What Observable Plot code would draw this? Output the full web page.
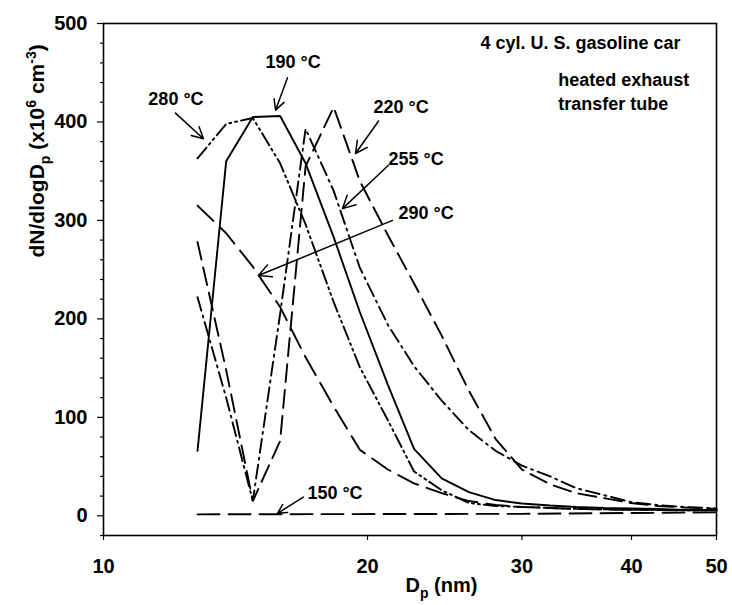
<!DOCTYPE html>
<html><head><meta charset="utf-8">
<script src="https://cdn.jsdelivr.net/npm/d3@7"></script>
<script src="https://cdn.jsdelivr.net/npm/@observablehq/plot@0.6"></script>
<style>
body{margin:0;background:#fff;}
#chart svg{display:block}
</style></head><body><div id="chart"></div>
<script>
// Particle diameter grid (nm)
const sizes = [12.8,13.8,14.8,15.9,17.0,18.3,19.6,21.1,22.6,24.3,26.1,28.0,30.0,32.3,34.6,37.2,39.9,42.8,46.0,50.0];
// dN/dlogDp (x10^6 cm^-3) for each transfer-tube temperature
const n190 = [66,360,405,406,358,283,207,133,68,38,24,16,12.5,10.5,9,8,7.5,7,6,6];
const n220 = [278,148,15,76,355,415,340,285,236,183,127,78,47,32,23,18,13,10,8.5,7];
const n255 = [222,120,15,205,393,330,252,194,152,117,87,66,51,40,28,21,14,11,9,7.5];
const n280 = [363,398,404,358,296,217,151,97,45,26,13,10,9,8,7,6.5,6,6,5.5,5.5];
const n290 = [315,287,253,212,161,111,67,47,33,23,15,11,9,8,7,6.5,6,6,5.5,5.5];
const sizes150 = [12.8,30,50];
const n150 = [1.5,2,3.5];

const xTicks = [10,20,30,40,50];
const yTicks = [0,100,200,300,400,500];
const yMinor = d3.range(-20,501,20).filter(v => v % 100 !== 0);

// annotations (data units)
const labelText = ["280 °C","190 °C","220 °C","255 °C","290 °C","150 °C"];
const labelD = [11.25,15.30,20.32,21.13,21.70,17.08];
const labelN = [423,461,415,362,307,23];
const arrowD1 = [12.08,16.21,20.59,21.13,21.36,16.90];
const arrowN1 = [409,445,401,356,300,19];
const arrowD2 = [13.0,15.71,19.38,18.73,15.02,15.79];
const arrowN2 = [383,412,368,312,244,2.5];
const notes = ["4 cyl. U. S. gasoline car","heated exhaust","transfer tube"];
const notesD = [26.9,33.0,33.0];
const notesN = [480,442,418];

const yTitleParts = [["dN/dlogD",""],["p","sub"],[" (x10",""],["6","sup"],[" cm",""],["-3","sup"],[")",""]];
const xTitleParts = [["D",""],["p","sub"],[" (nm)",""]];
const joinParts = p => p.map(d => d[0]).join("");

const rows = (xs, ys) => xs.map((d,i) => ({D: d, N: ys[i]}));
const labels = labelText.map((t,i) => ({t, D: labelD[i], N: labelN[i]}));
const arrows = arrowD1.map((d,i) => ({x1: d, y1: arrowN1[i], x2: arrowD2[i], y2: arrowN2[i]}));
const noteRows = notes.map((t,i) => ({t, D: notesD[i], N: notesN[i]}));

const lineOpts = {x: "D", y: "N", stroke: "black", strokeWidth: 1.9, strokeLinejoin: "miter"};

const plot = Plot.plot({
  width: 732, height: 605,
  marginLeft: 103, marginRight: 16, marginTop: 23, marginBottom: 70,
  style: {fontFamily: "'Liberation Sans', Arial, sans-serif", fontWeight: "bold", background: "white", color: "black"},
  x: {type: "log", domain: [10,50], label: null},
  y: {domain: [-20,500], label: null},
  marks: [
    Plot.axisY({ticks: yMinor, tickSize: 3, tickFormat: () => "", label: null, strokeWidth: 1.2}),
    Plot.axisY({ticks: yTicks, tickSize: 6, tickPadding: 10, fontSize: 20, label: null, strokeWidth: 1.2}),
    Plot.axisX({ticks: xTicks, tickFormat: d => String(d), tickSize: 5, tickPadding: 18, fontSize: 20, label: null, strokeWidth: 1.2}),
    Plot.frame({stroke: "black", strokeWidth: 1.6}),
    Plot.line(rows(sizes150, n150), {...lineOpts, strokeDasharray: "22,9"}),
    Plot.line(rows(sizes, n190), {...lineOpts}),
    Plot.line(rows(sizes, n220), {...lineOpts, strokeDasharray: "18,8"}),
    Plot.line(rows(sizes, n255), {...lineOpts, strokeDasharray: "14,5,2,5"}),
    Plot.line(rows(sizes, n280), {...lineOpts, strokeDasharray: "14,4,2,4,2,4"}),
    Plot.line(rows(sizes, n290), {...lineOpts, strokeDasharray: "22,9"}),
    Plot.arrow(arrows, {x1: "x1", y1: "y1", x2: "x2", y2: "y2", stroke: "black", strokeWidth: 1.5, headLength: 14, headAngle: 55}),
    Plot.text(labels, {x: "D", y: "N", text: "t", textAnchor: "start", fontSize: 18, fill: "black"}),
    Plot.text(noteRows, {x: "D", y: "N", text: "t", textAnchor: "start", fontSize: 18, fill: "black"}),
    Plot.text([joinParts(yTitleParts)], {frameAnchor: "left", dx: -66, dy: -22, rotate: -90, fontSize: 21, fill: "black"}),
    Plot.text([joinParts(xTitleParts)], {x: [22.1], frameAnchor: "bottom", dy: 56, textAnchor: "start", fontSize: 20, fill: "black"})
  ]
});

// rebuild axis titles with real sub/superscripts
const NS = "http://www.w3.org/2000/svg";
function rich(el, parts) {
  el.textContent = "";
  let shift = 0;
  for (const [s, kind] of parts) {
    const t = document.createElementNS(NS, "tspan");
    t.textContent = s;
    const target = kind === "sub" ? 6 : kind === "sup" ? -8 : 0;
    t.setAttribute("dy", String(target - shift));
    shift = target;
    if (kind) t.setAttribute("font-size", "14");
    el.appendChild(t);
  }
}
plot.querySelectorAll("text").forEach(el => {
  if (el.textContent === joinParts(yTitleParts)) rich(el, yTitleParts);
  else if (el.textContent === joinParts(xTitleParts)) rich(el, xTitleParts);
});
document.getElementById("chart").appendChild(plot);
</script>
</body></html>
